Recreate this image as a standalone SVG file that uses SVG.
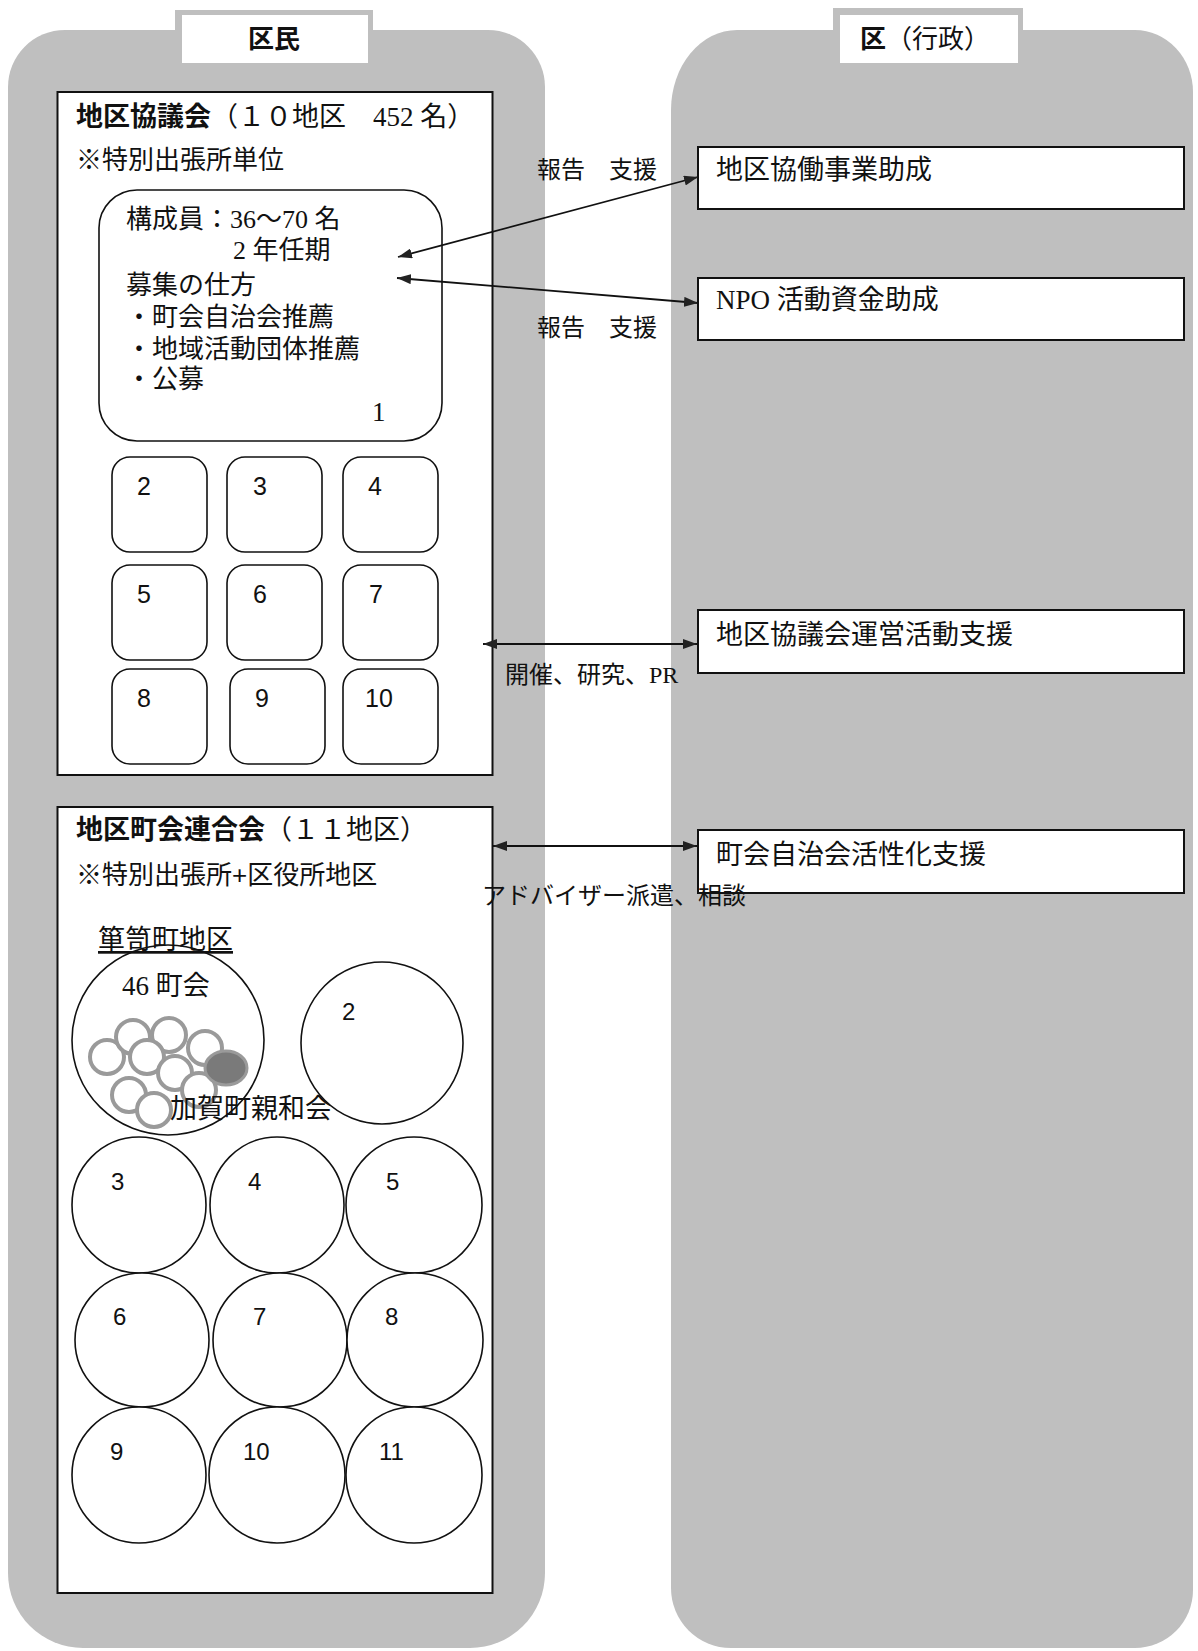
<svg xmlns="http://www.w3.org/2000/svg" width="1198" height="1651" viewBox="0 0 1198 1651">
<style>
.sans{font-family:"Liberation Sans","Noto Sans CJK JP",sans-serif;fill:#111}
.serif{font-family:"Liberation Serif","Noto Sans CJK JP",serif;fill:#111}
.b{font-weight:bold}
.panel{fill:#bfbfbf}
.box{fill:#fff;stroke:#111;stroke-width:2}
.thin{fill:#fff;stroke:#111;stroke-width:1.6}
.ring{fill:#fff;stroke:#9a9a9a;stroke-width:4}
.conn{stroke:#111;stroke-width:1.8;fill:none;marker-start:url(#ah);marker-end:url(#ah)}
</style>
<defs>
<marker id="ah" viewBox="0 0 14 10" refX="14" refY="5" markerWidth="14" markerHeight="10" markerUnits="userSpaceOnUse" orient="auto-start-reverse">
<path d="M0,0 L14,5 L0,10 Z" fill="#222"/>
</marker>
</defs>
<rect width="1198" height="1651" fill="#fff"/>

<g id="panel-kumin">
<path class="panel" d="M65 30 H488 A57 57 0 0 1 545 87 V1573 A75 75 0 0 1 470 1648 H83 A75 75 0 0 1 8 1573 V87 A57 57 0 0 1 65 30 Z"/>
<rect class="panel" x="175" y="10" width="198" height="56"/>
<rect x="182" y="15" width="186" height="48" fill="#fff"/>
<text class="sans b" x="248" y="48" font-size="26">区民</text>
</g>

<g id="panel-ku">
<path class="panel" d="M737 30 H1135 A58 62 0 0 1 1193 92 V1590 A58 58 0 0 1 1135 1648 H731 A60 60 0 0 1 671 1588 V110 A66 80 0 0 1 737 30 Z"/>
<rect class="panel" x="833" y="8" width="190" height="58"/>
<rect x="840" y="15" width="178" height="48" fill="#fff"/>
<text class="sans" x="860" y="48" font-size="26"><tspan font-weight="bold">区</tspan>（行政）</text>
</g>

<g id="kyogikai">
<rect class="box" x="57.5" y="92" width="435" height="683"/>
<text class="sans" x="76" y="126" font-size="27"><tspan font-weight="bold">地区協議会</tspan><tspan class="serif">（１０地区　452 名）</tspan></text>
<text class="sans" x="76" y="169" font-size="26">※特別出張所単位</text>
</g>

<g id="district-1">
<rect class="thin" x="99" y="190" width="343" height="251" rx="38" ry="38"/>
<text class="serif" font-size="26">
<tspan x="126" y="228">構成員：36～70 名</tspan>
<tspan x="233" y="259">2 年任期</tspan>
<tspan x="126" y="294">募集の仕方</tspan>
<tspan x="126" y="326">・町会自治会推薦</tspan>
<tspan x="126" y="358">・地域活動団体推薦</tspan>
<tspan x="126" y="388">・公募</tspan>
</text>
<text class="serif" x="372" y="421" font-size="27">1</text>
</g>

<g id="district-2"><rect class="thin" x="112" y="457" width="95" height="95" rx="18"/><text class="sans" x="137" y="495" font-size="25">2</text></g>
<g id="district-3"><rect class="thin" x="227" y="457" width="95" height="95" rx="18"/><text class="sans" x="253" y="495" font-size="25">3</text></g>
<g id="district-4"><rect class="thin" x="343" y="457" width="95" height="95" rx="18"/><text class="sans" x="368" y="495" font-size="25">4</text></g>
<g id="district-5"><rect class="thin" x="112" y="565" width="95" height="95" rx="18"/><text class="sans" x="137" y="603" font-size="25">5</text></g>
<g id="district-6"><rect class="thin" x="227" y="565" width="95" height="95" rx="18"/><text class="sans" x="253" y="603" font-size="25">6</text></g>
<g id="district-7"><rect class="thin" x="343" y="565" width="95" height="95" rx="18"/><text class="sans" x="369" y="603" font-size="25">7</text></g>
<g id="district-8"><rect class="thin" x="112" y="669" width="95" height="95" rx="18"/><text class="sans" x="137" y="707" font-size="25">8</text></g>
<g id="district-9"><rect class="thin" x="230" y="669" width="95" height="95" rx="18"/><text class="sans" x="255" y="707" font-size="25">9</text></g>
<g id="district-10"><rect class="thin" x="343" y="669" width="95" height="95" rx="18"/><text class="sans" x="365" y="707" font-size="25">10</text></g>

<g id="rengokai">
<rect class="box" x="57.5" y="807" width="435" height="786"/>
<text class="sans" x="76" y="839" font-size="27"><tspan font-weight="bold">地区町会連合会</tspan><tspan class="serif">（１１地区）</tspan></text>
<text class="sans" x="76" y="884" font-size="26">※特別出張所+区役所地区</text>
</g>

<g id="area-1">
<ellipse class="thin" cx="168" cy="1040" rx="96" ry="95"/>
<text class="serif" x="98" y="949" font-size="27" text-decoration="underline">箪笥町地区</text>
<text class="serif" x="122" y="995" font-size="27">46 町会</text>
<circle class="ring" cx="107" cy="1057" r="17"/>
<circle class="ring" cx="133" cy="1037" r="17"/>
<circle class="ring" cx="169" cy="1035" r="17"/>
<circle class="ring" cx="205" cy="1048" r="17"/>
<circle class="ring" cx="147" cy="1057" r="17"/>
<circle class="ring" cx="175" cy="1073" r="17"/>
<circle class="ring" cx="199" cy="1090" r="17"/>
<circle class="ring" cx="129" cy="1095" r="17"/>
<circle class="ring" cx="154" cy="1110" r="17"/>
<ellipse cx="226" cy="1068" rx="21" ry="17" fill="#7a7a7a" stroke="#9a9a9a" stroke-width="3"/>
<text class="sans" x="170" y="1118" font-size="27">加賀町親和会</text>
</g>

<g id="area-2"><circle class="thin" cx="382" cy="1043" r="81"/><text class="sans" x="342" y="1020" font-size="24">2</text></g>
<g id="area-3"><ellipse class="thin" cx="139" cy="1205" rx="67" ry="68"/><text class="sans" x="111" y="1190" font-size="24">3</text></g>
<g id="area-4"><ellipse class="thin" cx="277" cy="1205" rx="67" ry="68"/><text class="sans" x="248" y="1190" font-size="24">4</text></g>
<g id="area-5"><ellipse class="thin" cx="414" cy="1205" rx="68" ry="68"/><text class="sans" x="386" y="1190" font-size="24">5</text></g>
<g id="area-6"><ellipse class="thin" cx="142" cy="1340" rx="67" ry="67"/><text class="sans" x="113" y="1325" font-size="24">6</text></g>
<g id="area-7"><ellipse class="thin" cx="280" cy="1340" rx="67" ry="67"/><text class="sans" x="253" y="1325" font-size="24">7</text></g>
<g id="area-8"><ellipse class="thin" cx="415" cy="1340" rx="68" ry="67"/><text class="sans" x="385" y="1325" font-size="24">8</text></g>
<g id="area-9"><ellipse class="thin" cx="139" cy="1475" rx="67" ry="68"/><text class="sans" x="110" y="1460" font-size="24">9</text></g>
<g id="area-10"><ellipse class="thin" cx="277" cy="1475" rx="68" ry="68"/><text class="sans" x="243" y="1460" font-size="24">10</text></g>
<g id="area-11"><ellipse class="thin" cx="414" cy="1475" rx="68" ry="68"/><text class="sans" x="379" y="1460" font-size="24">11</text></g>

<g id="josei-kyodo"><rect class="box" x="698" y="147" width="486" height="62"/><text class="serif" x="716" y="179" font-size="27">地区協働事業助成</text></g>
<g id="josei-npo"><rect class="box" x="698" y="278" width="486" height="62"/><text class="serif" x="716" y="309" font-size="27">NPO 活動資金助成</text></g>
<g id="shien-kyogikai"><rect class="box" x="698" y="610" width="486" height="63"/><text class="serif" x="716" y="644" font-size="27">地区協議会運営活動支援</text></g>
<g id="shien-chokai"><rect class="box" x="698" y="830" width="486" height="63"/><text class="serif" x="716" y="864" font-size="27">町会自治会活性化支援</text></g>

<g id="connectors">
<line class="conn" x1="398" y1="257" x2="698" y2="177"/>
<line class="conn" x1="397" y1="278" x2="698" y2="303"/>
<line class="conn" x1="483" y1="644" x2="697" y2="644"/>
<line class="conn" x1="493" y1="846" x2="697" y2="846"/>
<text class="serif" x="537" y="178" font-size="24">報告　支援</text>
<text class="serif" x="537" y="336" font-size="24">報告　支援</text>
<text class="serif" x="505" y="683" font-size="24">開催、研究、PR</text>
<text class="serif" x="482" y="904" font-size="24">アドバイザー派遣、相談</text>
</g>
</svg>
